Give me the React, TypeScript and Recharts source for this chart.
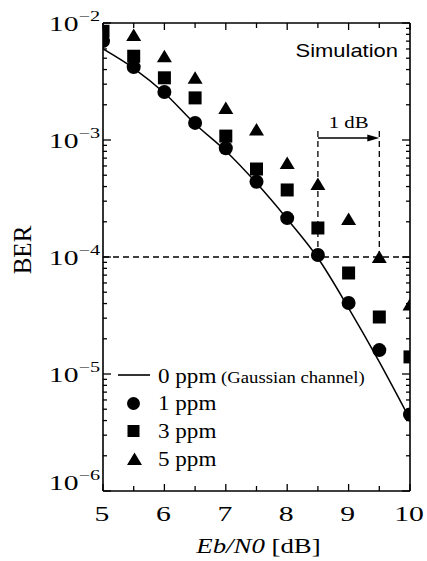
import React from 'react';
import {
  ComposedChart,
  Line,
  Scatter,
  XAxis,
  YAxis,
  ReferenceLine,
  Legend,
  Customized,
} from 'recharts';

// ---- data ----
const ebn0 = [5, 5.5, 6, 6.5, 7, 7.5, 8, 8.5, 9, 9.5, 10];
const ber0ppm = [6.0e-3, 4.1e-3, 2.52e-3, 1.37e-3, 8.05e-4, 4.28e-4, 2.11e-4, 9.8e-5, 3.66e-5, 1.27e-5, 4.1e-6];
const ber1ppm = [7.0e-3, 4.2e-3, 2.57e-3, 1.4e-3, 8.5e-4, 4.4e-4, 2.15e-4, 1.04e-4, 4.05e-5, 1.6e-5, 4.5e-6];
const ber3ppm = [8.5e-3, 5.2e-3, 3.4e-3, 2.29e-3, 1.08e-3, 5.65e-4, 3.74e-4, 1.77e-4, 7.3e-5, 3.07e-5, 1.4e-5];
const ber5ppm: (number | null)[] = [null, 7.9e-3, 5.2e-3, 3.4e-3, 1.88e-3, 1.23e-3, 6.35e-4, 4.2e-4, 2.11e-4, 1.0e-4, 3.93e-5];

const xTicks = [5, 5.5, 6, 6.5, 7, 7.5, 8, 8.5, 9, 9.5, 10];
const xTickLabels = ['5', '6', '7', '8', '9', '10'];
const yDecadeExps = [-6, -5, -4, -3, -2];
const yMinorMantissas = [2, 3, 4, 5, 6, 7, 8, 9];

const targetBer = 1e-4;
const gapFrom = 8.5;
const gapTo = 9.5;
const gapTopBer = 1.29e-3;
const arrowBer = 1.04e-3;
const gapLabel = '1 dB';

const legendLabels = ['0 ppm', '(Gaussian channel)', '1 ppm', '3 ppm', '5 ppm'];

// ---- derived tables ----
const toRows = (ys: (number | null)[]) =>
  ebn0.map((x, i) => ({ x, y: ys[i] })).filter((r) => r.y !== null);
const line0 = toRows(ber0ppm);
const pts1 = toRows(ber1ppm);
const pts3 = toRows(ber3ppm);
const pts5 = toRows(ber5ppm);

const yTicks: number[] = [];
yDecadeExps.forEach((e, i) => {
  yTicks.push(Math.pow(10, e));
  if (i < yDecadeExps.length - 1) yMinorMantissas.forEach((m) => yTicks.push(m * Math.pow(10, e)));
});

const SERIF = '"Liberation Serif", "Times New Roman", serif';
const SANS = '"Liberation Sans", Arial, sans-serif';
const AXIS_STROKE = { stroke: '#000', strokeWidth: 1.6 };

const isMajor = (v: number) => {
  const e = Math.round(Math.log10(v));
  return Math.abs(v / Math.pow(10, e) - 1) < 1e-6;
};

const LeftYTick = (props: any) => {
  const { x, y, payload } = props;
  const v = payload.value;
  const major = isMajor(v);
  const e = Math.round(Math.log10(v));
  const base = v === yTicks[0] ? y - 1 : y + 7.5;
  return (
    <g>
      <line x1={x} y1={y} x2={x + (major ? 8 : 4)} y2={y} stroke="#000" strokeWidth={1.3} />
      {major && (
        <text
          transform={`translate(${x - 3},${base}) scale(1.35,1)`}
          textAnchor="end"
          fontFamily={SERIF}
          fontSize={22}
          fill="#000"
        >
          10
          <tspan fontSize={15} dy={-10}>
            {'\u2212' + Math.abs(e)}
          </tspan>
        </text>
      )}
    </g>
  );
};

const RightYTick = (props: any) => {
  const { x, y, payload } = props;
  const major = isMajor(payload.value);
  return <line x1={x} y1={y} x2={x - (major ? 8 : 4)} y2={y} stroke="#000" strokeWidth={1.3} />;
};

const BottomXTick = (props: any) => {
  const { x, y, payload } = props;
  const v = payload.value;
  const isInt = Math.abs(v - Math.round(v)) < 1e-9;
  const label = isInt ? xTickLabels[Math.round(v) - 5] : null;
  return (
    <g>
      <line x1={x} y1={y} x2={x} y2={y - (isInt ? 7 : 5)} stroke="#000" strokeWidth={1.3} />
      {label && (
        <text
          transform={`translate(${x - 1},${y + 30}) scale(1.35,1)`}
          textAnchor="middle"
          fontFamily={SERIF}
          fontSize={22}
          fill="#000"
        >
          {label}
        </text>
      )}
    </g>
  );
};

const TopXTick = (props: any) => {
  const { x, y, payload } = props;
  const v = payload.value;
  const isInt = Math.abs(v - Math.round(v)) < 1e-9;
  return <line x1={x} y1={y} x2={x} y2={y + (isInt ? 7 : 5)} stroke="#000" strokeWidth={1.3} />;
};

const Circle = (p: any) => <circle cx={p.cx} cy={p.cy} r={7} fill="#000" />;
const Square = (p: any) => <rect x={p.cx - 6.5} y={p.cy - 6.5} width={13} height={13} fill="#000" />;
const Triangle = (p: any) => (
  <polygon
    points={`${p.cx},${p.cy - 6.5} ${p.cx - 7.5},${p.cy + 6} ${p.cx + 7.5},${p.cy + 6}`}
    fill="#000"
  />
);

const ArrowShape = (p: any) => {
  const { x1, y1, x2, y2 } = p;
  return (
    <g>
      <line x1={x1} y1={y1} x2={x2 - 8} y2={y2} stroke="#000" strokeWidth={1.3} />
      <polygon points={`${x2},${y2} ${x2 - 12},${y2 - 3.5} ${x2 - 12},${y2 + 3.5}`} fill="#000" />
    </g>
  );
};

const GapLabel = (p: any) => {
  const vb = p.viewBox || {};
  const cx = vb.x + (vb.width || 0) / 2;
  return (
    <text
      transform={`translate(${cx},${vb.y - 10}) scale(1.3,1)`}
      textAnchor="middle"
      fontFamily={SERIF}
      fontSize={16}
      fill="#000"
    >
      {gapLabel}
    </text>
  );
};

const XTitle = (p: any) => {
  const vb = p.viewBox;
  return (
    <text
      transform={`translate(${vb.x + vb.width / 2 + 2},${vb.y + 62}) scale(1.22,1)`}
      textAnchor="middle"
      fontFamily={SERIF}
      fontSize={22}
      fill="#000"
    >
      <tspan fontStyle="italic">Eb/N0</tspan>
      <tspan> [dB]</tspan>
    </text>
  );
};

const YTitle = (p: any) => {
  const vb = p.viewBox;
  const cx = vb.x + 22;
  const cy = vb.y + vb.height / 2 - 7;
  return (
    <text
      transform={`translate(${cx},${cy}) rotate(-90)`}
      textAnchor="middle"
      dominantBaseline="central"
      fontFamily={SERIF}
      fontSize={25}
      fill="#000"
    >
      BER
    </text>
  );
};

const SimulationText = () => (
  <text
    transform="translate(398,57) scale(1.22,1)"
    textAnchor="end"
    fontFamily={SANS}
    fontSize={18}
    fill="#000"
  >
    Simulation
  </text>
);

const LegendContent = () => {
  const t = (x: number, y: number, s: React.ReactNode) => (
    <text transform={`translate(${x},${y}) scale(1.1,1)`} fontFamily={SERIF} fontSize={21} fill="#000">
      {s}
    </text>
  );
  return (
    <svg width={290} height={115} style={{ overflow: 'visible', display: 'block' }}>
      <line x1={8} y1={15} x2={40} y2={15} stroke="#000" strokeWidth={1.6} />
      {t(
        48,
        23,
        <>
          {legendLabels[0]}
          <tspan fontSize={17}>{' ' + legendLabels[1]}</tspan>
        </>
      )}
      <circle cx={23.5} cy={43.5} r={6.5} fill="#000" />
      {t(48, 50, legendLabels[2])}
      <rect x={17.5} y={65} width={12} height={12} fill="#000" />
      {t(48, 78, legendLabels[3])}
      <polygon points="24.5,92.5 17,105 32,105" fill="#000" />
      {t(48, 106, legendLabels[4])}
    </svg>
  );
};

export default function App() {
  return (
    <div style={{ position: 'absolute', left: 0, top: 0, width: 427, height: 561, background: '#fff' }}>
      <ComposedChart width={427} height={561} margin={{ top: 22, right: 16, bottom: 0, left: 0 }}>
        <XAxis
          xAxisId="bottom"
          dataKey="x"
          type="number"
          domain={[5, 10]}
          ticks={xTicks}
          interval={0}
          allowDataOverflow
          height={70}
          tickSize={0}
          tickMargin={0}
          tickLine={false}
          axisLine={AXIS_STROKE}
          tick={<BottomXTick />}
          label={{ content: <XTitle /> } as any}
        />
        <XAxis
          xAxisId="top"
          orientation="top"
          dataKey="x"
          type="number"
          domain={[5, 10]}
          ticks={xTicks}
          interval={0}
          allowDataOverflow
          height={1}
          tickSize={0}
          tickMargin={0}
          tickLine={false}
          axisLine={AXIS_STROKE}
          tick={<TopXTick />}
        />
        <YAxis
          yAxisId="left"
          type="number"
          scale="log"
          domain={[1e-6, 1e-2]}
          ticks={yTicks}
          interval={0}
          allowDataOverflow
          width={103}
          tickSize={0}
          tickMargin={0}
          tickLine={false}
          axisLine={AXIS_STROKE}
          tick={<LeftYTick />}
          label={{ content: <YTitle /> } as any}
        />
        <YAxis
          yAxisId="right"
          orientation="right"
          type="number"
          scale="log"
          domain={[1e-6, 1e-2]}
          ticks={yTicks}
          interval={0}
          allowDataOverflow
          width={1}
          tickSize={0}
          tickMargin={0}
          tickLine={false}
          axisLine={AXIS_STROKE}
          tick={<RightYTick />}
        />

        <ReferenceLine
          xAxisId="bottom"
          yAxisId="left"
          y={targetBer}
          stroke="#000"
          strokeWidth={1.3}
          strokeDasharray="6 4"
        />
        <ReferenceLine
          xAxisId="bottom"
          yAxisId="left"
          segment={[
            { x: gapFrom, y: targetBer },
            { x: gapFrom, y: gapTopBer },
          ]}
          stroke="#000"
          strokeWidth={1.3}
          strokeDasharray="6 4"
        />
        <ReferenceLine
          xAxisId="bottom"
          yAxisId="left"
          segment={[
            { x: gapTo, y: targetBer },
            { x: gapTo, y: gapTopBer },
          ]}
          stroke="#000"
          strokeWidth={1.3}
          strokeDasharray="6 4"
        />
        <ReferenceLine
          xAxisId="bottom"
          yAxisId="left"
          segment={[
            { x: gapFrom, y: arrowBer },
            { x: gapTo, y: arrowBer },
          ]}
          shape={ArrowShape as any}
          label={<GapLabel />}
        />

        <Line
          xAxisId="bottom"
          yAxisId="left"
          data={line0}
          dataKey="y"
          type="monotone"
          stroke="#000"
          strokeWidth={1.5}
          dot={false}
          isAnimationActive={false}
          name="0 ppm"
        />
        <Scatter xAxisId="bottom" yAxisId="left" data={pts1} dataKey="y" shape={Circle} isAnimationActive={false} name="1 ppm" />
        <Scatter xAxisId="bottom" yAxisId="left" data={pts3} dataKey="y" shape={Square} isAnimationActive={false} name="3 ppm" />
        <Scatter xAxisId="bottom" yAxisId="left" data={pts5} dataKey="y" shape={Triangle} isAnimationActive={false} name="5 ppm" />

        <Customized component={<SimulationText />} />
        <Legend
          layout="horizontal"
          verticalAlign="middle"
          align="center"
          content={<LegendContent />}
          wrapperStyle={{ left: 110, top: 360, width: 290, height: 115 }}
        />
      </ComposedChart>
    </div>
  );
}
